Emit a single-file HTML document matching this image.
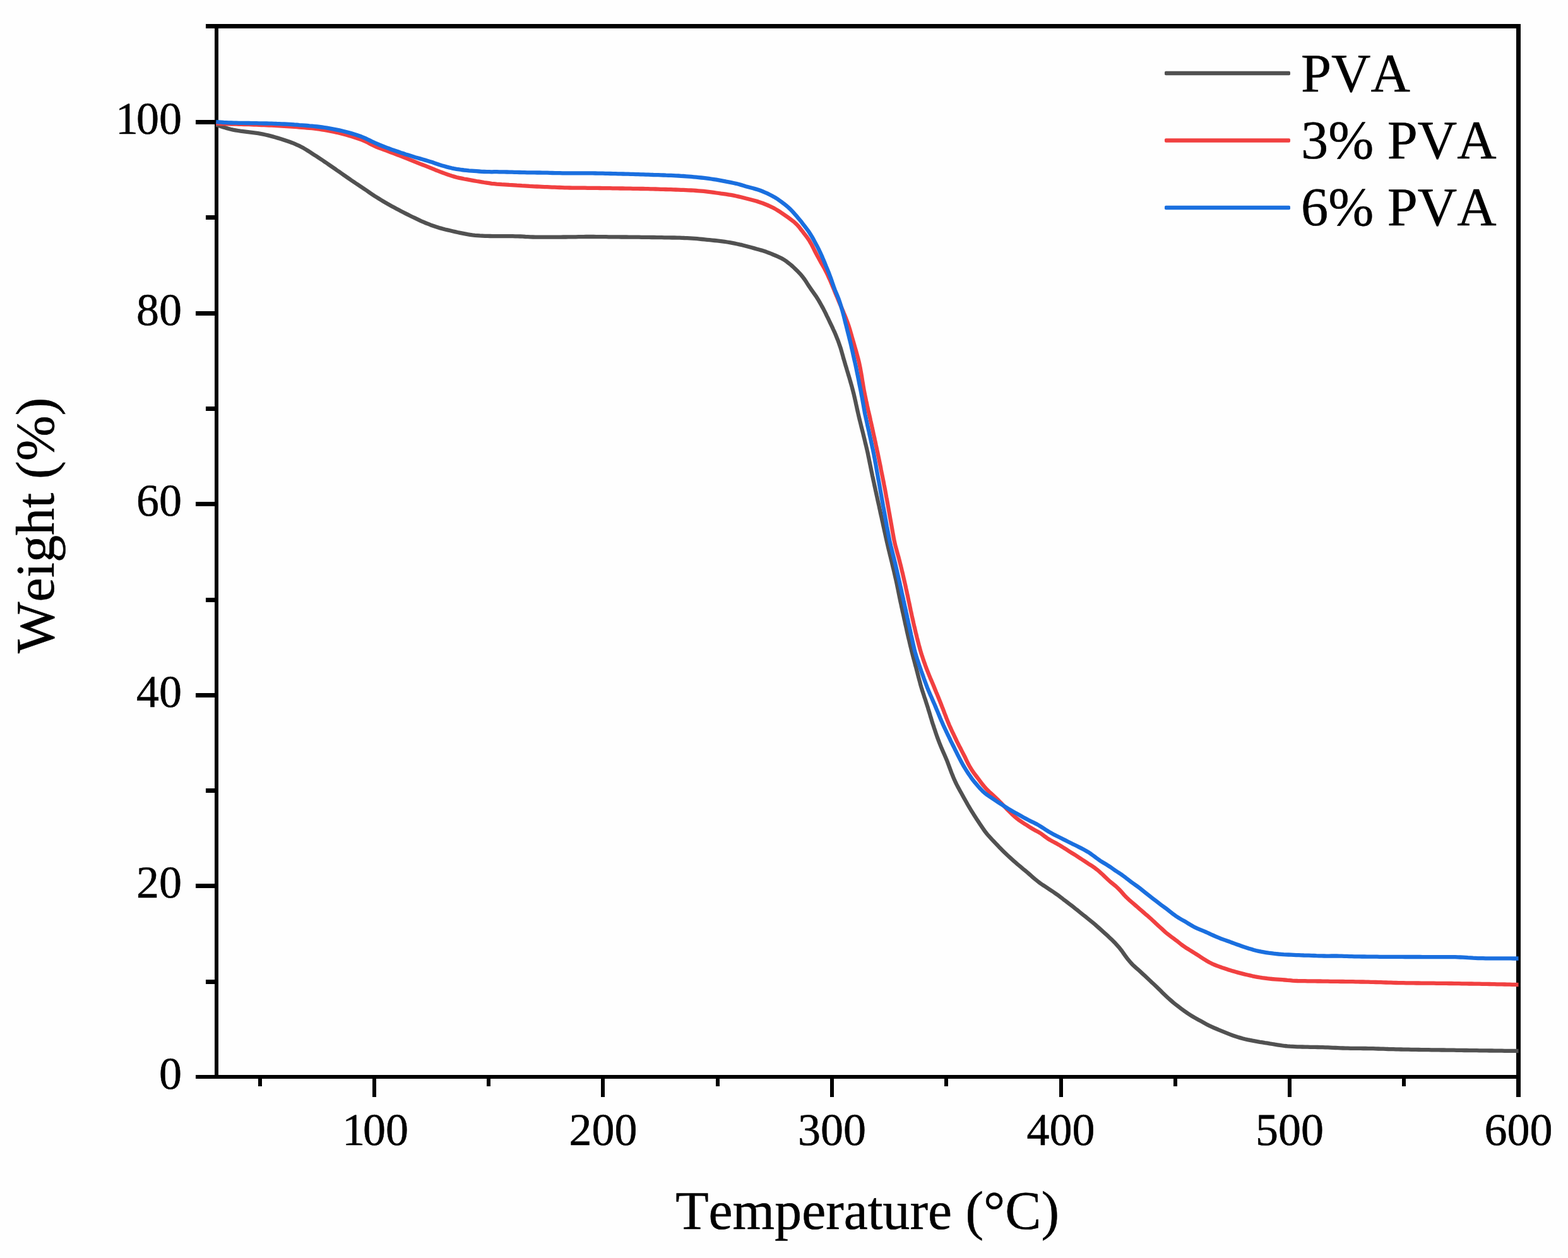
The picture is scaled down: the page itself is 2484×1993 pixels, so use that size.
<!DOCTYPE html>
<html lang="en"><head><meta charset="utf-8"><title>TGA curves: Weight (%) vs Temperature (°C)</title>
<style>
html,body{margin:0;padding:0;background:#fff;}
body{width:2484px;height:1993px;overflow:hidden;}
svg{display:block;}
text{font-family:"Liberation Serif","Times New Roman",Times,serif;fill:#000;font-kerning:none;font-variant-ligatures:none;text-rendering:geometricPrecision;stroke:#000;stroke-width:0.5px;stroke-linejoin:round;}
.tk{font-size:72px;}
.lg{font-size:86.4px;}
.tt{font-size:86.4px;}
.cv{fill:none;stroke-width:6.3;stroke-linejoin:round;stroke-linecap:butt;}
</style></head><body>
<svg width="2484" height="1993" viewBox="0 0 2484 1993">
<rect x="0" y="0" width="2484" height="1993" fill="#fefefe"/>
<g fill="#000" shape-rendering="crispEdges">
<rect x="340" y="38" width="6" height="1671"/>
<rect x="2402" y="38" width="7" height="1671"/>
<rect x="340" y="38" width="2069" height="7"/>
<rect x="340" y="1703" width="2069" height="6"/>
<rect x="310" y="1703" width="31" height="6"/>
<rect x="326" y="1552" width="15" height="7"/>
<rect x="310" y="1400" width="31" height="7"/>
<rect x="326" y="1249" width="15" height="7"/>
<rect x="310" y="1098" width="31" height="7"/>
<rect x="326" y="947" width="15" height="7"/>
<rect x="310" y="795" width="31" height="7"/>
<rect x="326" y="644" width="15" height="7"/>
<rect x="310" y="493" width="31" height="7"/>
<rect x="326" y="341" width="15" height="7"/>
<rect x="310" y="190" width="31" height="7"/>
<rect x="326" y="38" width="15" height="7"/>
<rect x="409" y="1708" width="6" height="13"/>
<rect x="590" y="1708" width="6" height="30"/>
<rect x="771" y="1708" width="6" height="13"/>
<rect x="952" y="1708" width="6" height="30"/>
<rect x="1134" y="1708" width="6" height="13"/>
<rect x="1315" y="1708" width="6" height="30"/>
<rect x="1496" y="1708" width="6" height="13"/>
<rect x="1678" y="1708" width="6" height="30"/>
<rect x="1859" y="1708" width="6" height="13"/>
<rect x="2040" y="1708" width="6" height="30"/>
<rect x="2221" y="1708" width="6" height="13"/>
<rect x="2402" y="1708" width="7" height="30"/>
</g>
<path class="cv" stroke="#515151" d="M342.3,197.8 L346.1,199.0 L350.0,200.2 L353.8,201.4 L357.6,202.6 L361.5,203.7 L365.3,204.7 L369.2,205.6 L373.1,206.3 L377.1,207.0 L381.0,207.6 L385.0,208.1 L389.0,208.6 L392.9,209.1 L396.9,209.6 L400.9,210.1 L404.8,210.6 L408.8,211.2 L412.7,211.9 L416.7,212.7 L420.6,213.5 L424.5,214.4 L428.4,215.4 L432.2,216.4 L436.1,217.5 L439.9,218.6 L443.8,219.7 L447.6,220.9 L451.4,222.2 L455.2,223.5 L458.9,224.8 L462.7,226.2 L466.4,227.7 L470.1,229.3 L473.7,230.9 L477.3,232.7 L480.8,234.6 L484.2,236.6 L487.6,238.7 L491.0,240.9 L494.3,243.1 L497.7,245.3 L501.1,247.4 L504.4,249.6 L507.8,251.8 L511.1,254.0 L514.4,256.3 L517.7,258.5 L521.0,260.8 L524.3,263.1 L527.6,265.4 L530.9,267.7 L534.1,270.0 L537.4,272.2 L540.7,274.5 L544.0,276.8 L547.3,279.1 L550.5,281.4 L553.8,283.7 L557.1,286.0 L560.4,288.2 L563.8,290.5 L567.1,292.7 L570.4,294.9 L573.8,297.1 L577.1,299.3 L580.4,301.5 L583.7,303.8 L586.9,306.1 L590.2,308.3 L593.6,310.6 L596.9,312.7 L600.3,314.8 L603.7,316.9 L607.2,319.0 L610.6,321.0 L614.1,323.0 L617.6,325.0 L621.1,326.9 L624.6,328.8 L628.1,330.7 L631.6,332.6 L635.2,334.5 L638.7,336.3 L642.3,338.1 L645.9,339.9 L649.5,341.7 L653.1,343.5 L656.7,345.2 L660.3,346.9 L663.9,348.6 L667.5,350.3 L671.2,351.9 L674.9,353.5 L678.6,354.9 L682.3,356.4 L686.1,357.7 L689.9,359.0 L693.7,360.2 L697.5,361.4 L701.4,362.5 L705.2,363.5 L709.1,364.4 L713.0,365.3 L716.9,366.2 L720.8,367.1 L724.7,368.0 L728.7,368.8 L732.6,369.6 L736.5,370.4 L740.4,371.2 L744.4,371.8 L748.3,372.4 L752.3,372.8 L756.3,373.1 L760.3,373.4 L764.3,373.6 L768.3,373.8 L772.3,373.9 L776.3,374.0 L780.3,374.1 L784.3,374.2 L788.3,374.2 L792.3,374.2 L796.3,374.1 L800.3,374.1 L804.3,374.1 L808.3,374.2 L812.3,374.2 L816.3,374.3 L820.3,374.4 L824.3,374.5 L828.3,374.7 L832.3,375.0 L836.3,375.2 L840.2,375.4 L844.2,375.5 L848.2,375.6 L852.2,375.6 L856.2,375.6 L860.3,375.6 L864.3,375.6 L868.3,375.6 L872.3,375.6 L876.3,375.6 L880.3,375.6 L884.3,375.6 L888.3,375.6 L892.3,375.5 L896.3,375.5 L900.3,375.4 L904.3,375.4 L908.3,375.3 L912.3,375.3 L916.3,375.2 L920.3,375.1 L924.3,375.1 L928.3,375.0 L932.3,375.0 L936.3,375.0 L940.3,375.0 L944.3,375.1 L948.3,375.1 L952.3,375.1 L956.3,375.2 L960.3,375.2 L964.3,375.3 L968.3,375.3 L972.3,375.3 L976.3,375.4 L980.3,375.4 L984.3,375.5 L988.3,375.5 L992.3,375.5 L996.3,375.6 L1000.3,375.6 L1004.3,375.7 L1008.3,375.7 L1012.3,375.7 L1016.3,375.8 L1020.3,375.8 L1024.3,375.9 L1028.3,375.9 L1032.3,376.0 L1036.3,376.0 L1040.3,376.1 L1044.3,376.2 L1048.4,376.2 L1052.4,376.3 L1056.4,376.3 L1060.4,376.4 L1064.4,376.5 L1068.4,376.5 L1072.4,376.6 L1076.4,376.7 L1080.4,376.8 L1084.4,377.0 L1088.4,377.1 L1092.4,377.3 L1096.4,377.6 L1100.3,377.9 L1104.3,378.2 L1108.3,378.6 L1112.3,379.0 L1116.3,379.4 L1120.3,379.8 L1124.2,380.2 L1128.2,380.6 L1132.2,381.0 L1136.2,381.4 L1140.2,381.8 L1144.1,382.3 L1148.1,382.9 L1152.0,383.5 L1156.0,384.2 L1159.9,384.9 L1163.8,385.7 L1167.8,386.5 L1171.7,387.4 L1175.6,388.2 L1179.5,389.2 L1183.3,390.2 L1187.2,391.2 L1191.0,392.3 L1194.9,393.4 L1198.8,394.5 L1202.6,395.5 L1206.5,396.6 L1210.3,397.8 L1214.1,399.1 L1217.8,400.5 L1221.5,401.9 L1225.2,403.5 L1228.9,405.0 L1232.6,406.6 L1236.2,408.3 L1239.7,410.1 L1243.0,412.2 L1246.3,414.4 L1249.5,416.9 L1252.6,419.4 L1255.6,422.0 L1258.5,424.7 L1261.3,427.5 L1264.2,430.3 L1266.9,433.2 L1269.6,436.2 L1272.1,439.3 L1274.5,442.5 L1276.7,445.8 L1278.8,449.1 L1281.0,452.5 L1283.2,455.8 L1285.5,459.1 L1287.8,462.3 L1290.1,465.6 L1292.4,468.8 L1294.6,472.2 L1296.7,475.6 L1298.7,479.1 L1300.6,482.5 L1302.6,486.1 L1304.5,489.6 L1306.3,493.1 L1308.1,496.7 L1309.8,500.3 L1311.6,503.9 L1313.3,507.5 L1315.0,511.1 L1316.7,514.7 L1318.5,518.4 L1320.1,522.0 L1321.8,525.6 L1323.4,529.3 L1324.9,533.0 L1326.4,536.7 L1327.9,540.4 L1329.2,544.2 L1330.5,548.0 L1331.8,551.8 L1332.9,555.6 L1334.0,559.5 L1335.1,563.3 L1336.1,567.2 L1337.3,571.0 L1338.4,574.9 L1339.5,578.7 L1340.7,582.5 L1341.8,586.4 L1343.0,590.2 L1344.1,594.0 L1345.3,597.9 L1346.4,601.7 L1347.5,605.5 L1348.6,609.4 L1349.7,613.2 L1350.7,617.1 L1351.7,621.0 L1352.7,624.9 L1353.6,628.8 L1354.5,632.7 L1355.4,636.6 L1356.2,640.5 L1357.1,644.4 L1357.9,648.3 L1358.8,652.2 L1359.7,656.1 L1360.6,660.0 L1361.5,663.9 L1362.5,667.8 L1363.5,671.7 L1364.4,675.5 L1365.4,679.4 L1366.4,683.3 L1367.4,687.2 L1368.3,691.1 L1369.3,695.0 L1370.2,698.9 L1371.1,702.7 L1372.1,706.6 L1373.0,710.5 L1373.9,714.4 L1374.8,718.3 L1375.6,722.3 L1376.4,726.2 L1377.2,730.1 L1378.0,734.0 L1378.8,737.9 L1379.6,741.9 L1380.4,745.8 L1381.2,749.7 L1382.0,753.6 L1382.9,757.5 L1383.7,761.4 L1384.6,765.4 L1385.4,769.3 L1386.3,773.2 L1387.1,777.1 L1388.0,781.0 L1388.8,784.9 L1389.7,788.8 L1390.5,792.7 L1391.4,796.6 L1392.3,800.5 L1393.1,804.5 L1394.0,808.4 L1394.8,812.3 L1395.7,816.2 L1396.6,820.1 L1397.4,824.0 L1398.3,827.9 L1399.1,831.8 L1400.0,835.7 L1400.8,839.6 L1401.7,843.5 L1402.6,847.5 L1403.4,851.4 L1404.3,855.3 L1405.2,859.2 L1406.1,863.1 L1407.0,867.0 L1407.9,870.9 L1408.9,874.7 L1409.8,878.6 L1410.8,882.5 L1411.7,886.4 L1412.7,890.3 L1413.6,894.2 L1414.5,898.1 L1415.5,902.0 L1416.4,905.9 L1417.3,909.8 L1418.2,913.7 L1419.1,917.6 L1420.0,921.5 L1420.8,925.4 L1421.6,929.3 L1422.4,933.2 L1423.2,937.2 L1424.0,941.1 L1424.8,945.0 L1425.6,948.9 L1426.4,952.8 L1427.3,956.7 L1428.1,960.7 L1429.0,964.6 L1429.8,968.5 L1430.7,972.4 L1431.6,976.3 L1432.4,980.2 L1433.3,984.1 L1434.1,988.0 L1435.0,991.9 L1435.9,995.8 L1436.7,999.7 L1437.6,1003.6 L1438.5,1007.5 L1439.4,1011.4 L1440.4,1015.3 L1441.3,1019.2 L1442.2,1023.1 L1443.2,1027.0 L1444.1,1030.9 L1445.1,1034.8 L1446.1,1038.7 L1447.1,1042.5 L1448.2,1046.4 L1449.2,1050.3 L1450.2,1054.1 L1451.3,1058.0 L1452.3,1061.9 L1453.3,1065.7 L1454.3,1069.6 L1455.3,1073.5 L1456.3,1077.3 L1457.4,1081.2 L1458.4,1085.1 L1459.5,1088.9 L1460.7,1092.7 L1461.9,1096.6 L1463.2,1100.4 L1464.4,1104.2 L1465.7,1108.0 L1466.9,1111.8 L1468.1,1115.6 L1469.4,1119.4 L1470.5,1123.2 L1471.7,1127.0 L1472.9,1130.9 L1474.0,1134.7 L1475.2,1138.5 L1476.3,1142.4 L1477.5,1146.2 L1478.8,1150.0 L1480.0,1153.8 L1481.3,1157.6 L1482.6,1161.4 L1483.9,1165.2 L1485.2,1168.9 L1486.6,1172.7 L1488.0,1176.4 L1489.5,1180.1 L1491.0,1183.8 L1492.6,1187.5 L1494.2,1191.2 L1495.8,1194.8 L1497.4,1198.5 L1499.0,1202.2 L1500.5,1205.9 L1501.9,1209.6 L1503.3,1213.4 L1504.7,1217.1 L1506.1,1220.9 L1507.5,1224.6 L1509.0,1228.3 L1510.5,1232.0 L1512.1,1235.7 L1513.8,1239.3 L1515.5,1242.9 L1517.4,1246.5 L1519.3,1250.0 L1521.2,1253.5 L1523.2,1257.0 L1525.1,1260.5 L1527.0,1264.0 L1529.0,1267.5 L1531.0,1271.0 L1532.9,1274.5 L1534.9,1277.9 L1537.0,1281.3 L1539.1,1284.8 L1541.2,1288.2 L1543.3,1291.6 L1545.5,1294.9 L1547.6,1298.3 L1549.9,1301.6 L1552.1,1304.9 L1554.3,1308.3 L1556.5,1311.6 L1558.8,1314.9 L1561.1,1318.1 L1563.6,1321.2 L1566.2,1324.2 L1568.9,1327.1 L1571.6,1330.1 L1574.4,1333.0 L1577.1,1335.9 L1579.9,1338.8 L1582.6,1341.7 L1585.4,1344.5 L1588.3,1347.4 L1591.1,1350.2 L1594.0,1353.0 L1596.9,1355.7 L1599.8,1358.4 L1602.8,1361.1 L1605.8,1363.8 L1608.8,1366.4 L1611.8,1369.1 L1614.9,1371.6 L1617.9,1374.2 L1621.0,1376.8 L1624.1,1379.3 L1627.2,1381.9 L1630.2,1384.5 L1633.2,1387.1 L1636.2,1389.8 L1639.2,1392.4 L1642.3,1394.9 L1645.4,1397.4 L1648.6,1399.7 L1651.9,1402.0 L1655.3,1404.2 L1658.6,1406.4 L1661.9,1408.6 L1665.3,1410.8 L1668.6,1413.0 L1671.9,1415.3 L1675.2,1417.6 L1678.4,1420.0 L1681.6,1422.4 L1684.7,1424.9 L1687.9,1427.3 L1691.1,1429.8 L1694.3,1432.2 L1697.4,1434.6 L1700.6,1437.1 L1703.7,1439.6 L1706.9,1442.1 L1710.0,1444.6 L1713.1,1447.1 L1716.2,1449.6 L1719.4,1452.1 L1722.5,1454.6 L1725.6,1457.1 L1728.7,1459.6 L1731.8,1462.2 L1734.8,1464.7 L1737.8,1467.4 L1740.8,1470.0 L1743.8,1472.7 L1746.8,1475.4 L1749.8,1478.1 L1752.7,1480.7 L1755.7,1483.4 L1758.6,1486.2 L1761.5,1488.9 L1764.3,1491.8 L1767.1,1494.6 L1769.8,1497.6 L1772.5,1500.6 L1775.0,1503.7 L1777.4,1506.8 L1779.7,1510.1 L1782.0,1513.3 L1784.4,1516.6 L1786.8,1519.8 L1789.3,1522.8 L1791.9,1525.8 L1794.7,1528.7 L1797.6,1531.4 L1800.6,1534.1 L1803.6,1536.7 L1806.6,1539.4 L1809.5,1542.1 L1812.5,1544.8 L1815.4,1547.6 L1818.3,1550.3 L1821.2,1553.0 L1824.1,1555.8 L1827.1,1558.5 L1830.0,1561.2 L1832.9,1564.0 L1835.7,1566.8 L1838.6,1569.6 L1841.4,1572.4 L1844.3,1575.2 L1847.2,1578.0 L1850.1,1580.7 L1853.1,1583.4 L1856.1,1586.0 L1859.1,1588.6 L1862.2,1591.1 L1865.4,1593.6 L1868.6,1596.0 L1871.8,1598.4 L1875.0,1600.8 L1878.3,1603.1 L1881.5,1605.4 L1884.9,1607.6 L1888.3,1609.7 L1891.7,1611.8 L1895.2,1613.7 L1898.7,1615.7 L1902.2,1617.6 L1905.7,1619.6 L1909.2,1621.5 L1912.7,1623.4 L1916.2,1625.2 L1919.9,1626.9 L1923.5,1628.5 L1927.2,1630.0 L1930.9,1631.6 L1934.6,1633.1 L1938.3,1634.6 L1942.0,1636.1 L1945.7,1637.6 L1949.5,1639.1 L1953.2,1640.5 L1957.0,1641.8 L1960.8,1643.0 L1964.6,1644.1 L1968.5,1645.2 L1972.4,1646.2 L1976.3,1647.1 L1980.2,1647.9 L1984.1,1648.7 L1988.0,1649.4 L1992.0,1650.1 L1995.9,1650.8 L1999.9,1651.4 L2003.8,1652.1 L2007.8,1652.7 L2011.7,1653.4 L2015.7,1654.0 L2019.6,1654.7 L2023.6,1655.3 L2027.5,1655.9 L2031.5,1656.5 L2035.4,1657.0 L2039.4,1657.4 L2043.4,1657.7 L2047.4,1657.9 L2051.4,1658.1 L2055.4,1658.3 L2059.4,1658.4 L2063.4,1658.5 L2067.4,1658.6 L2071.4,1658.7 L2075.4,1658.8 L2079.4,1658.8 L2083.4,1658.9 L2087.4,1659.0 L2091.4,1659.1 L2095.4,1659.2 L2099.4,1659.3 L2103.4,1659.4 L2107.4,1659.6 L2111.4,1659.8 L2115.4,1660.0 L2119.4,1660.2 L2123.4,1660.4 L2127.4,1660.5 L2131.4,1660.7 L2135.4,1660.7 L2139.4,1660.8 L2143.4,1660.8 L2147.4,1660.9 L2151.4,1660.9 L2155.4,1660.9 L2159.4,1661.0 L2163.4,1661.0 L2167.4,1661.1 L2171.4,1661.1 L2175.4,1661.2 L2179.4,1661.4 L2183.4,1661.5 L2187.4,1661.6 L2191.4,1661.7 L2195.4,1661.8 L2199.4,1662.0 L2203.4,1662.1 L2207.4,1662.2 L2211.4,1662.3 L2215.4,1662.4 L2219.4,1662.5 L2223.4,1662.6 L2227.4,1662.6 L2231.4,1662.7 L2235.4,1662.8 L2239.4,1662.9 L2243.4,1662.9 L2247.4,1663.0 L2251.4,1663.1 L2255.4,1663.1 L2259.4,1663.2 L2263.4,1663.2 L2267.4,1663.3 L2271.4,1663.3 L2275.4,1663.4 L2279.4,1663.4 L2283.4,1663.5 L2287.4,1663.5 L2291.4,1663.6 L2295.4,1663.6 L2299.4,1663.7 L2303.4,1663.7 L2307.4,1663.8 L2311.5,1663.9 L2315.5,1663.9 L2319.5,1664.0 L2323.5,1664.0 L2327.5,1664.1 L2331.5,1664.1 L2335.5,1664.2 L2339.5,1664.2 L2343.5,1664.3 L2347.5,1664.3 L2351.5,1664.4 L2355.5,1664.4 L2359.5,1664.5 L2363.5,1664.5 L2367.5,1664.6 L2371.5,1664.6 L2375.5,1664.7 L2379.5,1664.7 L2383.5,1664.8 L2387.5,1664.8 L2391.5,1664.8 L2395.5,1664.9 L2399.5,1664.9 L2403.5,1665.0 L2405.5,1665.0"/>
<path class="cv" stroke="#f14040" d="M342.3,195.7 L346.3,195.9 L350.3,196.0 L354.3,196.1 L358.3,196.3 L362.3,196.4 L366.3,196.5 L370.3,196.6 L374.3,196.7 L378.3,196.8 L382.3,196.9 L386.3,197.0 L390.3,197.1 L394.3,197.2 L398.3,197.3 L402.3,197.5 L406.3,197.6 L410.3,197.8 L414.3,198.0 L418.3,198.1 L422.3,198.3 L426.3,198.5 L430.3,198.7 L434.3,198.9 L438.3,199.1 L442.3,199.3 L446.3,199.6 L450.3,199.8 L454.2,200.1 L458.2,200.3 L462.2,200.6 L466.2,200.9 L470.2,201.2 L474.2,201.5 L478.2,201.8 L482.2,202.2 L486.2,202.5 L490.1,202.8 L494.1,203.2 L498.1,203.6 L502.1,204.1 L506.0,204.7 L510.0,205.3 L513.9,206.0 L517.9,206.7 L521.8,207.4 L525.7,208.2 L529.6,209.0 L533.6,209.8 L537.4,210.7 L541.3,211.7 L545.2,212.7 L549.0,213.8 L552.9,214.9 L556.7,216.0 L560.5,217.2 L564.3,218.4 L568.1,219.7 L571.9,221.1 L575.6,222.5 L579.2,224.1 L582.6,225.8 L586.0,227.7 L589.4,229.5 L593.0,231.2 L596.6,232.8 L600.3,234.2 L604.0,235.6 L607.8,237.0 L611.5,238.4 L615.3,239.8 L619.0,241.2 L622.8,242.6 L626.5,244.0 L630.3,245.5 L634.0,246.9 L637.7,248.4 L641.4,249.9 L645.2,251.3 L648.9,252.8 L652.6,254.3 L656.3,255.8 L660.0,257.3 L663.7,258.8 L667.4,260.3 L671.2,261.7 L674.9,263.2 L678.6,264.7 L682.3,266.2 L686.0,267.7 L689.7,269.2 L693.4,270.6 L697.2,272.1 L700.9,273.5 L704.7,274.9 L708.4,276.3 L712.2,277.6 L716.0,278.8 L719.8,279.9 L723.7,281.0 L727.6,281.9 L731.5,282.7 L735.4,283.5 L739.4,284.2 L743.3,284.9 L747.2,285.6 L751.2,286.3 L755.1,287.0 L759.1,287.6 L763.0,288.3 L766.9,289.0 L770.9,289.6 L774.8,290.2 L778.8,290.8 L782.8,291.2 L786.8,291.6 L790.7,291.9 L794.7,292.2 L798.7,292.4 L802.7,292.6 L806.7,292.9 L810.7,293.1 L814.7,293.4 L818.7,293.7 L822.7,293.9 L826.7,294.2 L830.7,294.4 L834.7,294.6 L838.7,294.9 L842.7,295.1 L846.6,295.3 L850.6,295.5 L854.6,295.7 L858.6,295.9 L862.6,296.1 L866.6,296.2 L870.6,296.4 L874.6,296.6 L878.6,296.7 L882.6,296.9 L886.6,297.0 L890.6,297.1 L894.6,297.3 L898.6,297.4 L902.6,297.5 L906.6,297.6 L910.6,297.7 L914.6,297.7 L918.6,297.7 L922.6,297.7 L926.6,297.7 L930.6,297.8 L934.6,297.8 L938.6,297.8 L942.6,297.9 L946.6,297.9 L950.6,298.0 L954.6,298.1 L958.6,298.1 L962.6,298.2 L966.6,298.2 L970.6,298.3 L974.6,298.4 L978.6,298.4 L982.6,298.5 L986.6,298.5 L990.6,298.6 L994.6,298.7 L998.6,298.7 L1002.6,298.8 L1006.6,298.8 L1010.6,298.9 L1014.6,299.0 L1018.6,299.0 L1022.6,299.1 L1026.6,299.2 L1030.6,299.3 L1034.6,299.4 L1038.6,299.5 L1042.6,299.6 L1046.6,299.8 L1050.6,299.9 L1054.6,300.0 L1058.6,300.1 L1062.6,300.2 L1066.6,300.4 L1070.6,300.5 L1074.6,300.6 L1078.6,300.8 L1082.6,300.9 L1086.6,301.1 L1090.6,301.3 L1094.6,301.5 L1098.6,301.7 L1102.6,302.0 L1106.6,302.3 L1110.6,302.6 L1114.5,302.9 L1118.5,303.3 L1122.5,303.8 L1126.5,304.3 L1130.4,304.9 L1134.4,305.5 L1138.3,306.0 L1142.3,306.6 L1146.3,307.1 L1150.2,307.7 L1154.2,308.3 L1158.1,308.9 L1162.0,309.6 L1166.0,310.5 L1169.8,311.4 L1173.7,312.3 L1177.6,313.3 L1181.5,314.3 L1185.4,315.2 L1189.3,316.2 L1193.1,317.2 L1197.0,318.3 L1200.8,319.4 L1204.6,320.7 L1208.4,322.0 L1212.1,323.5 L1215.8,325.0 L1219.4,326.6 L1223.0,328.3 L1226.6,330.1 L1230.0,332.1 L1233.4,334.2 L1236.7,336.4 L1240.0,338.6 L1243.3,340.8 L1246.6,343.1 L1249.8,345.4 L1252.9,347.8 L1256.1,350.2 L1259.1,352.7 L1262.0,355.4 L1264.7,358.2 L1267.2,361.3 L1269.6,364.5 L1272.1,367.6 L1274.5,370.8 L1277.0,373.9 L1279.3,377.1 L1281.6,380.4 L1283.6,383.8 L1285.6,387.3 L1287.4,390.8 L1289.2,394.4 L1291.0,398.0 L1292.8,401.5 L1294.7,405.1 L1296.6,408.6 L1298.5,412.1 L1300.5,415.6 L1302.4,419.0 L1304.4,422.5 L1306.4,426.0 L1308.2,429.6 L1310.0,433.1 L1311.7,436.7 L1313.3,440.4 L1315.0,444.0 L1316.6,447.7 L1318.1,451.4 L1319.6,455.1 L1321.2,458.8 L1322.7,462.5 L1324.2,466.2 L1325.8,469.9 L1327.3,473.6 L1328.8,477.3 L1330.4,481.0 L1331.9,484.6 L1333.5,488.3 L1335.1,492.0 L1336.6,495.7 L1338.2,499.4 L1339.7,503.1 L1341.1,506.8 L1342.5,510.6 L1343.8,514.3 L1345.1,518.1 L1346.3,521.9 L1347.4,525.8 L1348.5,529.6 L1349.6,533.5 L1350.7,537.3 L1351.8,541.2 L1352.9,545.0 L1354.0,548.9 L1355.1,552.7 L1356.2,556.5 L1357.3,560.4 L1358.4,564.3 L1359.4,568.1 L1360.4,572.0 L1361.3,575.9 L1362.1,579.8 L1362.9,583.7 L1363.6,587.7 L1364.3,591.6 L1365.0,595.5 L1365.6,599.5 L1366.2,603.4 L1366.9,607.4 L1367.5,611.3 L1368.2,615.3 L1368.9,619.2 L1369.7,623.1 L1370.5,627.1 L1371.3,631.0 L1372.1,634.9 L1373.0,638.8 L1373.8,642.7 L1374.7,646.6 L1375.5,650.5 L1376.5,654.4 L1377.4,658.3 L1378.3,662.2 L1379.1,666.1 L1380.0,670.0 L1380.9,673.9 L1381.7,677.8 L1382.6,681.7 L1383.4,685.6 L1384.3,689.6 L1385.2,693.5 L1386.0,697.4 L1386.9,701.3 L1387.7,705.2 L1388.6,709.1 L1389.4,713.0 L1390.3,716.9 L1391.1,720.8 L1391.9,724.8 L1392.7,728.7 L1393.5,732.6 L1394.3,736.5 L1395.1,740.4 L1395.8,744.4 L1396.6,748.3 L1397.4,752.2 L1398.2,756.1 L1399.0,760.1 L1399.8,764.0 L1400.5,767.9 L1401.3,771.8 L1402.1,775.8 L1402.8,779.7 L1403.5,783.6 L1404.2,787.6 L1405.0,791.5 L1405.7,795.4 L1406.4,799.4 L1407.1,803.3 L1407.8,807.2 L1408.5,811.2 L1409.2,815.1 L1409.9,819.1 L1410.6,823.0 L1411.3,826.9 L1412.0,830.9 L1412.7,834.8 L1413.4,838.8 L1414.1,842.7 L1414.8,846.6 L1415.5,850.6 L1416.2,854.5 L1417.1,858.4 L1417.9,862.3 L1418.9,866.2 L1420.0,870.1 L1421.0,873.9 L1422.1,877.8 L1423.2,881.6 L1424.2,885.5 L1425.2,889.4 L1426.2,893.2 L1427.2,897.1 L1428.1,901.0 L1429.0,904.9 L1430.0,908.8 L1430.9,912.7 L1431.8,916.6 L1432.7,920.5 L1433.6,924.4 L1434.5,928.3 L1435.3,932.2 L1436.2,936.1 L1437.0,940.0 L1437.9,943.9 L1438.7,947.8 L1439.5,951.7 L1440.4,955.6 L1441.2,959.6 L1442.0,963.5 L1442.8,967.4 L1443.7,971.3 L1444.5,975.2 L1445.4,979.1 L1446.3,983.0 L1447.1,986.9 L1448.0,990.8 L1449.0,994.7 L1449.9,998.6 L1450.8,1002.5 L1451.8,1006.4 L1452.7,1010.3 L1453.7,1014.1 L1454.7,1018.0 L1455.7,1021.9 L1456.8,1025.8 L1457.8,1029.6 L1458.9,1033.5 L1460.1,1037.3 L1461.4,1041.1 L1462.6,1044.9 L1463.9,1048.6 L1465.3,1052.4 L1466.6,1056.2 L1468.0,1059.9 L1469.5,1063.7 L1471.0,1067.4 L1472.5,1071.1 L1474.0,1074.8 L1475.6,1078.4 L1477.1,1082.1 L1478.7,1085.8 L1480.2,1089.5 L1481.7,1093.2 L1483.2,1096.9 L1484.8,1100.6 L1486.3,1104.3 L1487.8,1108.0 L1489.3,1111.7 L1490.8,1115.5 L1492.2,1119.2 L1493.7,1122.9 L1495.1,1126.6 L1496.5,1130.4 L1498.0,1134.1 L1499.4,1137.9 L1500.9,1141.6 L1502.4,1145.3 L1503.9,1149.0 L1505.6,1152.6 L1507.2,1156.2 L1508.9,1159.9 L1510.7,1163.5 L1512.4,1167.1 L1514.1,1170.7 L1515.8,1174.3 L1517.6,1177.9 L1519.4,1181.5 L1521.3,1185.0 L1523.1,1188.6 L1524.9,1192.1 L1526.8,1195.7 L1528.6,1199.2 L1530.3,1202.8 L1532.0,1206.4 L1533.8,1210.0 L1535.7,1213.5 L1537.7,1216.9 L1539.8,1220.3 L1542.1,1223.6 L1544.5,1226.8 L1546.9,1230.0 L1549.3,1233.2 L1551.7,1236.4 L1554.1,1239.6 L1556.5,1242.7 L1559.0,1245.8 L1561.7,1248.9 L1564.4,1251.7 L1567.2,1254.5 L1570.2,1257.2 L1573.2,1259.9 L1576.1,1262.6 L1579.0,1265.3 L1581.9,1268.1 L1584.7,1271.0 L1587.5,1273.8 L1590.2,1276.7 L1593.0,1279.6 L1595.8,1282.5 L1598.6,1285.3 L1601.4,1288.1 L1604.3,1290.9 L1607.3,1293.6 L1610.3,1296.2 L1613.4,1298.6 L1616.7,1300.9 L1620.0,1303.1 L1623.4,1305.3 L1626.8,1307.4 L1630.1,1309.6 L1633.5,1311.7 L1636.9,1313.7 L1640.4,1315.7 L1643.9,1317.6 L1647.3,1319.5 L1650.6,1321.7 L1653.7,1324.1 L1656.9,1326.4 L1660.1,1328.7 L1663.5,1330.8 L1667.0,1332.7 L1670.5,1334.6 L1674.0,1336.4 L1677.5,1338.4 L1680.9,1340.5 L1684.3,1342.6 L1687.7,1344.7 L1691.0,1346.9 L1694.4,1349.1 L1697.8,1351.2 L1701.2,1353.3 L1704.6,1355.4 L1707.9,1357.6 L1711.3,1359.8 L1714.6,1362.0 L1717.9,1364.2 L1721.3,1366.4 L1724.6,1368.6 L1728.0,1370.7 L1731.3,1372.9 L1734.6,1375.2 L1737.8,1377.7 L1740.8,1380.2 L1743.8,1382.8 L1746.8,1385.5 L1749.6,1388.3 L1752.5,1391.1 L1755.4,1393.8 L1758.4,1396.5 L1761.5,1399.0 L1764.6,1401.5 L1767.7,1404.0 L1770.6,1406.7 L1773.4,1409.5 L1776.1,1412.4 L1778.7,1415.4 L1781.3,1418.4 L1784.1,1421.3 L1787.0,1424.0 L1789.9,1426.7 L1793.0,1429.3 L1796.0,1431.9 L1799.0,1434.5 L1802.1,1437.1 L1805.1,1439.8 L1808.1,1442.4 L1811.1,1445.0 L1814.1,1447.7 L1817.2,1450.2 L1820.2,1452.8 L1823.2,1455.5 L1826.1,1458.2 L1829.0,1460.9 L1831.9,1463.7 L1834.8,1466.3 L1837.7,1469.0 L1840.7,1471.7 L1843.6,1474.4 L1846.6,1477.1 L1849.6,1479.6 L1852.8,1482.0 L1856.0,1484.4 L1859.2,1486.7 L1862.4,1489.2 L1865.6,1491.6 L1868.7,1494.1 L1871.8,1496.6 L1875.0,1498.9 L1878.3,1501.2 L1881.7,1503.3 L1885.1,1505.4 L1888.5,1507.5 L1891.9,1509.6 L1895.3,1511.7 L1898.7,1513.9 L1902.0,1516.1 L1905.4,1518.3 L1908.7,1520.4 L1912.1,1522.5 L1915.6,1524.5 L1919.2,1526.3 L1922.8,1528.0 L1926.5,1529.5 L1930.2,1530.9 L1934.0,1532.3 L1937.7,1533.6 L1941.5,1534.8 L1945.3,1536.1 L1949.2,1537.2 L1953.0,1538.4 L1956.8,1539.5 L1960.7,1540.6 L1964.5,1541.6 L1968.4,1542.6 L1972.3,1543.6 L1976.2,1544.5 L1980.1,1545.4 L1984.0,1546.3 L1987.9,1547.1 L1991.8,1547.8 L1995.8,1548.5 L1999.7,1549.1 L2003.7,1549.6 L2007.7,1550.2 L2011.6,1550.6 L2015.6,1551.0 L2019.6,1551.3 L2023.6,1551.6 L2027.6,1551.9 L2031.6,1552.2 L2035.6,1552.5 L2039.5,1552.9 L2043.5,1553.2 L2047.5,1553.6 L2051.5,1553.8 L2055.5,1554.0 L2059.5,1554.1 L2063.5,1554.2 L2067.5,1554.2 L2071.5,1554.3 L2075.5,1554.3 L2079.5,1554.4 L2083.5,1554.4 L2087.5,1554.5 L2091.5,1554.5 L2095.5,1554.6 L2099.5,1554.6 L2103.5,1554.7 L2107.5,1554.8 L2111.5,1554.8 L2115.5,1554.9 L2119.5,1554.9 L2123.5,1555.0 L2127.5,1555.0 L2131.5,1555.1 L2135.5,1555.1 L2139.5,1555.2 L2143.5,1555.2 L2147.5,1555.3 L2151.5,1555.4 L2155.5,1555.5 L2159.5,1555.5 L2163.5,1555.6 L2167.5,1555.7 L2171.5,1555.8 L2175.5,1555.9 L2179.5,1556.0 L2183.5,1556.1 L2187.5,1556.2 L2191.5,1556.4 L2195.5,1556.5 L2199.5,1556.6 L2203.5,1556.7 L2207.5,1556.9 L2211.5,1557.0 L2215.5,1557.1 L2219.5,1557.2 L2223.5,1557.2 L2227.5,1557.3 L2231.5,1557.3 L2235.5,1557.4 L2239.5,1557.4 L2243.5,1557.5 L2247.5,1557.5 L2251.5,1557.6 L2255.5,1557.6 L2259.5,1557.6 L2263.5,1557.7 L2267.5,1557.7 L2271.5,1557.7 L2275.5,1557.8 L2279.5,1557.8 L2283.5,1557.9 L2287.5,1557.9 L2291.5,1557.9 L2295.5,1558.0 L2299.5,1558.0 L2303.5,1558.1 L2307.5,1558.1 L2311.5,1558.2 L2315.5,1558.3 L2319.5,1558.3 L2323.5,1558.4 L2327.5,1558.5 L2331.5,1558.5 L2335.5,1558.6 L2339.5,1558.7 L2343.5,1558.7 L2347.5,1558.8 L2351.5,1558.9 L2355.5,1558.9 L2359.5,1559.0 L2363.5,1559.1 L2367.5,1559.2 L2371.5,1559.3 L2375.5,1559.3 L2379.5,1559.4 L2383.5,1559.5 L2387.5,1559.6 L2391.5,1559.7 L2395.5,1559.8 L2399.5,1559.9 L2403.5,1560.0 L2405.5,1560.0"/>
<path class="cv" stroke="#1a6fdf" d="M342.3,193.2 L346.3,193.4 L350.3,193.7 L354.3,194.0 L358.3,194.2 L362.3,194.4 L366.3,194.5 L370.3,194.7 L374.3,194.7 L378.3,194.8 L382.3,194.9 L386.3,194.9 L390.3,195.0 L394.3,195.0 L398.3,195.1 L402.3,195.2 L406.3,195.2 L410.3,195.3 L414.3,195.4 L418.3,195.5 L422.3,195.5 L426.3,195.6 L430.3,195.7 L434.3,195.8 L438.3,196.0 L442.3,196.1 L446.3,196.3 L450.3,196.5 L454.3,196.7 L458.3,196.9 L462.3,197.2 L466.3,197.5 L470.3,197.7 L474.2,198.1 L478.2,198.4 L482.2,198.7 L486.2,199.0 L490.2,199.4 L494.2,199.7 L498.2,200.1 L502.1,200.5 L506.1,201.0 L510.1,201.5 L514.0,202.0 L518.0,202.7 L521.9,203.4 L525.9,204.1 L529.8,204.8 L533.7,205.6 L537.6,206.4 L541.5,207.3 L545.4,208.2 L549.3,209.2 L553.2,210.3 L557.0,211.4 L560.8,212.5 L564.7,213.7 L568.4,215.0 L572.2,216.3 L575.9,217.8 L579.5,219.4 L583.1,221.2 L586.7,222.9 L590.3,224.7 L593.9,226.3 L597.6,227.9 L601.2,229.5 L604.9,231.0 L608.7,232.5 L612.4,233.9 L616.2,235.3 L619.9,236.7 L623.7,238.0 L627.5,239.3 L631.3,240.6 L635.0,241.9 L638.8,243.1 L642.6,244.4 L646.5,245.6 L650.3,246.8 L654.1,248.0 L657.9,249.2 L661.8,250.3 L665.6,251.4 L669.5,252.5 L673.3,253.6 L677.1,254.7 L681.0,255.9 L684.8,257.1 L688.6,258.4 L692.3,259.7 L696.1,261.0 L699.9,262.2 L703.8,263.3 L707.6,264.4 L711.5,265.4 L715.4,266.3 L719.3,267.1 L723.2,267.8 L727.2,268.4 L731.1,269.0 L735.1,269.5 L739.1,269.9 L743.1,270.3 L747.1,270.6 L751.1,270.9 L755.0,271.2 L759.0,271.5 L763.0,271.8 L767.0,272.0 L771.0,272.2 L775.0,272.2 L779.0,272.3 L783.0,272.2 L787.0,272.2 L791.0,272.3 L795.0,272.3 L799.0,272.4 L803.0,272.5 L807.0,272.6 L811.0,272.7 L815.0,272.8 L819.0,272.9 L823.0,273.0 L827.0,273.1 L831.0,273.2 L835.0,273.3 L839.0,273.3 L843.0,273.4 L847.0,273.4 L851.0,273.5 L855.0,273.5 L859.0,273.6 L863.0,273.7 L867.0,273.7 L871.0,273.9 L875.0,274.0 L879.0,274.1 L883.0,274.2 L887.0,274.2 L891.0,274.3 L895.0,274.3 L899.0,274.3 L903.0,274.3 L907.0,274.3 L911.0,274.3 L915.0,274.3 L919.0,274.3 L923.0,274.3 L927.0,274.3 L931.0,274.3 L935.0,274.4 L939.0,274.4 L943.0,274.5 L947.0,274.6 L951.0,274.7 L955.0,274.7 L959.0,274.8 L963.0,274.9 L967.0,275.0 L971.0,275.1 L975.0,275.2 L979.0,275.3 L983.0,275.4 L987.0,275.5 L991.0,275.6 L995.0,275.7 L999.0,275.8 L1003.0,275.9 L1007.0,276.1 L1011.0,276.2 L1015.0,276.3 L1019.0,276.4 L1023.0,276.6 L1027.0,276.7 L1031.0,276.8 L1035.0,277.0 L1039.0,277.1 L1043.0,277.2 L1047.0,277.4 L1051.0,277.5 L1055.0,277.7 L1059.0,277.8 L1063.0,277.9 L1067.0,278.1 L1071.0,278.3 L1075.0,278.5 L1079.0,278.8 L1083.0,279.0 L1087.0,279.3 L1091.0,279.6 L1095.0,279.9 L1099.0,280.3 L1102.9,280.7 L1106.9,281.1 L1110.9,281.5 L1114.9,281.9 L1118.8,282.4 L1122.8,282.9 L1126.8,283.5 L1130.7,284.1 L1134.7,284.7 L1138.6,285.4 L1142.5,286.1 L1146.5,286.9 L1150.4,287.7 L1154.3,288.4 L1158.2,289.2 L1162.2,290.0 L1166.1,290.8 L1169.9,291.8 L1173.8,292.9 L1177.6,294.0 L1181.4,295.2 L1185.3,296.3 L1189.1,297.3 L1193.0,298.3 L1196.8,299.4 L1200.7,300.5 L1204.4,301.8 L1208.2,303.3 L1211.8,304.8 L1215.5,306.4 L1219.1,308.2 L1222.6,310.0 L1226.1,311.9 L1229.6,314.0 L1232.9,316.2 L1236.1,318.5 L1239.4,320.9 L1242.5,323.3 L1245.6,325.8 L1248.7,328.4 L1251.6,331.1 L1254.4,333.9 L1257.1,336.9 L1259.7,339.8 L1262.4,342.9 L1264.9,345.9 L1267.5,349.0 L1270.0,352.1 L1272.4,355.3 L1274.9,358.5 L1277.3,361.6 L1279.7,364.8 L1282.0,368.1 L1284.1,371.5 L1286.2,374.9 L1288.2,378.4 L1290.1,381.9 L1292.0,385.4 L1293.9,388.9 L1295.7,392.4 L1297.5,396.0 L1299.2,399.6 L1300.9,403.3 L1302.5,406.9 L1304.0,410.6 L1305.6,414.3 L1307.1,418.0 L1308.6,421.7 L1310.2,425.4 L1311.7,429.1 L1313.2,432.8 L1314.6,436.6 L1316.0,440.3 L1317.3,444.1 L1318.6,447.9 L1319.9,451.6 L1321.2,455.4 L1322.6,459.1 L1324.1,462.8 L1325.7,466.5 L1327.2,470.2 L1328.7,473.9 L1330.0,477.7 L1331.2,481.5 L1332.4,485.3 L1333.5,489.1 L1334.6,493.0 L1335.7,496.9 L1336.7,500.7 L1337.7,504.6 L1338.6,508.5 L1339.6,512.4 L1340.6,516.2 L1341.6,520.1 L1342.5,524.0 L1343.5,527.9 L1344.5,531.8 L1345.4,535.6 L1346.4,539.5 L1347.4,543.4 L1348.3,547.3 L1349.2,551.2 L1350.1,555.1 L1351.0,559.0 L1351.8,562.9 L1352.7,566.8 L1353.6,570.7 L1354.5,574.6 L1355.4,578.5 L1356.2,582.4 L1357.0,586.4 L1357.8,590.3 L1358.6,594.2 L1359.4,598.1 L1360.2,602.0 L1360.9,606.0 L1361.7,609.9 L1362.5,613.8 L1363.3,617.7 L1364.1,621.7 L1364.8,625.6 L1365.6,629.5 L1366.3,633.5 L1367.0,637.4 L1367.7,641.3 L1368.4,645.3 L1369.1,649.2 L1369.8,653.1 L1370.6,657.1 L1371.5,661.0 L1372.3,664.9 L1373.2,668.8 L1374.0,672.7 L1374.9,676.6 L1375.8,680.5 L1376.7,684.4 L1377.5,688.3 L1378.4,692.2 L1379.3,696.1 L1380.1,700.0 L1381.0,704.0 L1381.8,707.9 L1382.7,711.8 L1383.5,715.7 L1384.3,719.6 L1385.0,723.5 L1385.8,727.5 L1386.5,731.4 L1387.2,735.3 L1387.9,739.3 L1388.6,743.2 L1389.3,747.2 L1390.0,751.1 L1390.7,755.0 L1391.4,759.0 L1392.2,762.9 L1392.9,766.9 L1393.6,770.8 L1394.3,774.7 L1395.0,778.7 L1395.7,782.6 L1396.4,786.5 L1397.1,790.5 L1397.8,794.4 L1398.5,798.4 L1399.2,802.3 L1400.0,806.2 L1400.7,810.2 L1401.4,814.1 L1402.1,818.1 L1402.8,822.0 L1403.5,825.9 L1404.2,829.9 L1404.9,833.8 L1405.7,837.7 L1406.4,841.7 L1407.2,845.6 L1407.9,849.5 L1408.7,853.4 L1409.5,857.4 L1410.4,861.3 L1411.3,865.2 L1412.3,869.0 L1413.2,872.9 L1414.2,876.8 L1415.2,880.7 L1416.2,884.6 L1417.1,888.4 L1418.1,892.3 L1419.0,896.2 L1419.9,900.1 L1420.8,904.0 L1421.7,907.9 L1422.6,911.8 L1423.5,915.7 L1424.4,919.6 L1425.3,923.5 L1426.1,927.4 L1427.0,931.3 L1427.9,935.3 L1428.7,939.2 L1429.6,943.1 L1430.5,947.0 L1431.3,950.9 L1432.2,954.8 L1433.0,958.7 L1433.9,962.6 L1434.8,966.5 L1435.6,970.4 L1436.5,974.3 L1437.3,978.2 L1438.2,982.1 L1439.0,986.1 L1439.9,990.0 L1440.8,993.9 L1441.6,997.8 L1442.5,1001.7 L1443.3,1005.6 L1444.2,1009.5 L1445.1,1013.4 L1445.9,1017.3 L1446.8,1021.2 L1447.7,1025.1 L1448.6,1029.0 L1449.6,1032.9 L1450.7,1036.7 L1451.9,1040.6 L1453.1,1044.4 L1454.4,1048.2 L1455.6,1051.9 L1456.9,1055.7 L1458.2,1059.5 L1459.5,1063.3 L1460.9,1067.1 L1462.2,1070.8 L1463.5,1074.6 L1464.9,1078.4 L1466.3,1082.1 L1467.7,1085.9 L1469.1,1089.6 L1470.6,1093.3 L1472.2,1097.0 L1473.8,1100.7 L1475.4,1104.3 L1477.0,1108.0 L1478.6,1111.7 L1480.2,1115.3 L1481.8,1119.0 L1483.3,1122.7 L1484.9,1126.4 L1486.4,1130.1 L1487.9,1133.8 L1489.4,1137.5 L1491.0,1141.2 L1492.6,1144.8 L1494.2,1148.5 L1495.9,1152.1 L1497.6,1155.8 L1499.3,1159.4 L1501.0,1163.0 L1502.8,1166.6 L1504.5,1170.2 L1506.2,1173.8 L1508.0,1177.4 L1509.8,1181.0 L1511.6,1184.5 L1513.3,1188.1 L1515.1,1191.7 L1516.9,1195.3 L1518.7,1198.9 L1520.5,1202.4 L1522.4,1206.0 L1524.3,1209.5 L1526.2,1213.0 L1528.3,1216.4 L1530.4,1219.8 L1532.6,1223.2 L1534.7,1226.5 L1537.0,1229.8 L1539.3,1233.1 L1541.7,1236.3 L1544.2,1239.4 L1546.8,1242.4 L1549.4,1245.5 L1552.0,1248.5 L1554.8,1251.4 L1557.6,1254.2 L1560.6,1256.8 L1563.7,1259.2 L1567.0,1261.5 L1570.3,1263.7 L1573.6,1265.9 L1577.0,1268.1 L1580.3,1270.3 L1583.7,1272.5 L1587.0,1274.7 L1590.4,1276.9 L1593.7,1279.0 L1597.1,1281.1 L1600.6,1283.2 L1604.0,1285.2 L1607.5,1287.2 L1611.0,1289.1 L1614.5,1291.1 L1618.0,1293.1 L1621.4,1295.0 L1625.0,1296.9 L1628.5,1298.8 L1632.1,1300.6 L1635.7,1302.3 L1639.3,1304.1 L1642.8,1305.9 L1646.2,1307.9 L1649.6,1310.0 L1653.0,1312.2 L1656.3,1314.4 L1659.7,1316.5 L1663.1,1318.6 L1666.6,1320.5 L1670.1,1322.4 L1673.7,1324.2 L1677.3,1326.0 L1680.8,1327.8 L1684.4,1329.6 L1688.0,1331.4 L1691.6,1333.2 L1695.1,1335.0 L1698.7,1336.8 L1702.3,1338.5 L1705.9,1340.3 L1709.5,1342.1 L1713.0,1343.9 L1716.6,1345.8 L1720.1,1347.7 L1723.5,1349.7 L1726.9,1351.9 L1730.1,1354.2 L1733.3,1356.5 L1736.5,1359.0 L1739.7,1361.3 L1742.9,1363.6 L1746.3,1365.7 L1749.7,1367.8 L1753.1,1369.8 L1756.5,1372.0 L1759.8,1374.2 L1763.1,1376.5 L1766.4,1378.8 L1769.7,1381.0 L1773.0,1383.2 L1776.4,1385.4 L1779.6,1387.7 L1782.8,1390.1 L1785.9,1392.6 L1789.1,1395.0 L1792.3,1397.4 L1795.5,1399.7 L1798.8,1402.1 L1802.0,1404.4 L1805.2,1406.8 L1808.3,1409.3 L1811.4,1411.8 L1814.5,1414.3 L1817.7,1416.8 L1820.9,1419.3 L1824.0,1421.7 L1827.2,1424.2 L1830.3,1426.6 L1833.5,1429.1 L1836.7,1431.5 L1839.9,1433.9 L1843.1,1436.3 L1846.3,1438.6 L1849.5,1441.1 L1852.6,1443.5 L1855.8,1446.0 L1858.9,1448.4 L1862.2,1450.8 L1865.5,1453.0 L1868.9,1455.1 L1872.3,1457.1 L1875.8,1459.1 L1879.3,1461.1 L1882.7,1463.2 L1886.1,1465.2 L1889.5,1467.3 L1893.0,1469.2 L1896.6,1470.9 L1900.2,1472.4 L1903.9,1473.9 L1907.6,1475.4 L1911.3,1477.0 L1914.9,1478.7 L1918.5,1480.4 L1922.2,1482.0 L1925.8,1483.6 L1929.5,1485.2 L1933.2,1486.7 L1937.0,1488.1 L1940.7,1489.4 L1944.5,1490.8 L1948.3,1492.1 L1952.0,1493.5 L1955.8,1494.9 L1959.5,1496.3 L1963.3,1497.6 L1967.1,1498.9 L1970.9,1500.2 L1974.7,1501.4 L1978.5,1502.7 L1982.3,1503.8 L1986.1,1505.0 L1990.0,1506.0 L1993.9,1506.9 L1997.8,1507.7 L2001.7,1508.4 L2005.7,1509.1 L2009.6,1509.7 L2013.6,1510.2 L2017.6,1510.7 L2021.5,1511.1 L2025.5,1511.5 L2029.5,1511.8 L2033.5,1512.1 L2037.5,1512.3 L2041.5,1512.5 L2045.5,1512.7 L2049.5,1512.9 L2053.5,1513.1 L2057.5,1513.2 L2061.5,1513.3 L2065.5,1513.5 L2069.5,1513.6 L2073.5,1513.7 L2077.5,1513.9 L2081.5,1514.0 L2085.5,1514.2 L2089.5,1514.3 L2093.5,1514.4 L2097.5,1514.5 L2101.5,1514.6 L2105.5,1514.6 L2109.5,1514.5 L2113.5,1514.5 L2117.5,1514.5 L2121.5,1514.6 L2125.5,1514.7 L2129.5,1514.8 L2133.5,1514.9 L2137.5,1515.1 L2141.5,1515.2 L2145.5,1515.3 L2149.5,1515.4 L2153.5,1515.4 L2157.5,1515.5 L2161.5,1515.5 L2165.5,1515.6 L2169.5,1515.6 L2173.5,1515.6 L2177.5,1515.7 L2181.5,1515.7 L2185.5,1515.8 L2189.5,1515.8 L2193.5,1515.8 L2197.5,1515.8 L2201.5,1515.9 L2205.5,1515.9 L2209.5,1515.9 L2213.5,1515.9 L2217.5,1515.9 L2221.5,1515.9 L2225.5,1516.0 L2229.5,1516.0 L2233.5,1516.0 L2237.5,1516.0 L2241.5,1516.0 L2245.5,1516.0 L2249.5,1516.0 L2253.5,1516.1 L2257.5,1516.1 L2261.5,1516.1 L2265.5,1516.1 L2269.5,1516.1 L2273.5,1516.1 L2277.5,1516.1 L2281.5,1516.1 L2285.5,1516.1 L2289.5,1516.1 L2293.5,1516.2 L2297.5,1516.2 L2301.5,1516.2 L2305.5,1516.2 L2309.5,1516.3 L2313.5,1516.5 L2317.5,1516.7 L2321.5,1516.9 L2325.5,1517.2 L2329.5,1517.4 L2333.5,1517.7 L2337.5,1517.9 L2341.5,1518.1 L2345.5,1518.2 L2349.5,1518.2 L2353.5,1518.3 L2357.5,1518.3 L2361.5,1518.3 L2365.5,1518.3 L2369.5,1518.3 L2373.5,1518.4 L2377.5,1518.4 L2381.5,1518.4 L2385.5,1518.4 L2389.5,1518.4 L2393.5,1518.4 L2397.5,1518.5 L2401.5,1518.5 L2405.5,1518.5"/>
<g class="tk">
<text x="287.9" y="1725" text-anchor="end">0</text>
<text x="287.9" y="1422.4" text-anchor="end">20</text>
<text x="287.9" y="1119.8" text-anchor="end">40</text>
<text x="287.9" y="817.2" text-anchor="end">60</text>
<text x="287.9" y="514.6" text-anchor="end">80</text>
<text y="212"><tspan x="183.1">1</tspan><tspan x="215.9">00</tspan></text>
<text y="1813.6"><tspan x="542.2">1</tspan><tspan x="575">00</tspan></text>
<text x="955.5" y="1813.6" text-anchor="middle">200</text>
<text x="1318" y="1813.6" text-anchor="middle">300</text>
<text x="1680.5" y="1813.6" text-anchor="middle">400</text>
<text x="2043" y="1813.6" text-anchor="middle">500</text>
<text x="2405.5" y="1813.6" text-anchor="middle">600</text>
</g>
<g class="lg">
<rect x="1845" y="112.75" width="199" height="6.5" rx="2" fill="#515151"/>
<text x="2061" y="144.5">PVA</text>
<rect x="1845" y="219.15" width="199" height="6.5" rx="2" fill="#f14040"/>
<text x="2061" y="250.7">3% PVA</text>
<rect x="1845" y="325.65" width="199" height="6.5" rx="2" fill="#1a6fdf"/>
<text x="2061" y="357">6% PVA</text>
</g>
<text class="tt" transform="translate(1070.2,1946.5) scale(0.9922,1)">Temperature (°C)</text>
<text class="tt" transform="translate(85.2,1035) rotate(-90)">Weight (%)</text>
</svg>
</body></html>
